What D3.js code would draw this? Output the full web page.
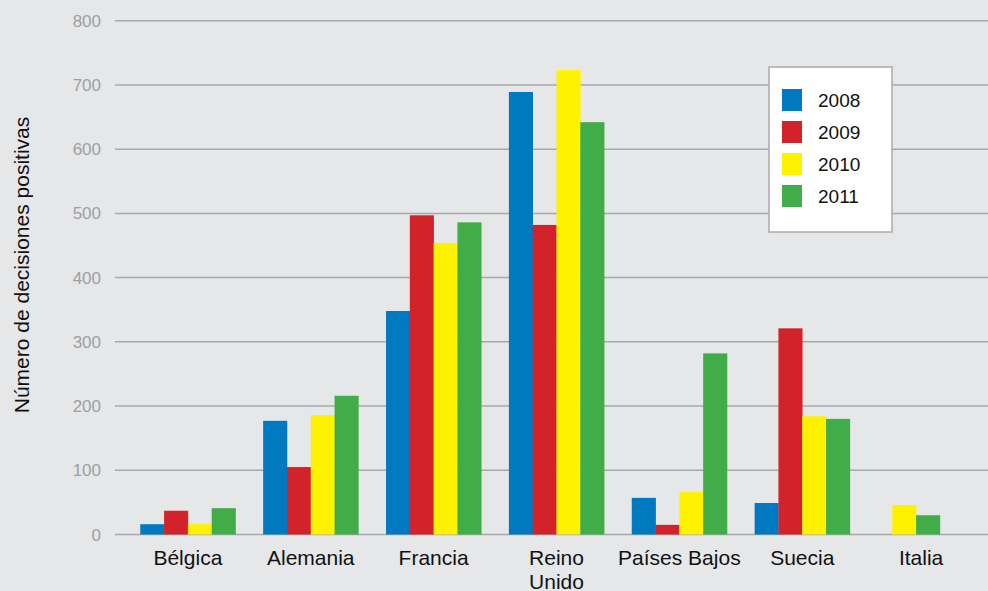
<!DOCTYPE html>
<html>
<head>
<meta charset="utf-8">
<script src="https://cdn.jsdelivr.net/npm/d3@7"></script>
<style>
  body { margin: 0; background: #e6e7e8; }
  svg { display: block; font-family: "Liberation Sans", Arial, sans-serif; }
</style>
</head>
<body>
<script>
const paises = ["Bélgica", "Alemania", "Francia", "Reino Unido", "Países Bajos", "Suecia", "Italia"];
const anios = ["2008", "2009", "2010", "2011"];
const v2008 = [16, 177, 348, 689, 57, 49, null];
const v2009 = [37, 105, 497, 482, 15, 321, null];
const v2010 = [16, 186, 454, 723, 66, 184, 46];
const v2011 = [41, 216, 486, 642, 282, 180, 30];
const yTicks = [0, 100, 200, 300, 400, 500, 600, 700, 800];
const colores = ["#0079c1", "#d3232a", "#fff200", "#41ad49"];

const series = [v2008, v2009, v2010, v2011];

const width = 988;
const height = 591;

const svg = d3.select("body").append("svg")
    .attr("width", width)
    .attr("height", height);

svg.append("rect")
    .attr("width", width)
    .attr("height", height)
    .attr("fill", "#e6e7e8");

const y = d3.scaleLinear().domain([0, 800]).range([534.5, 20.7]);

const x = d3.scaleBand()
    .domain(paises)
    .range([128, 985])
    .paddingInner(0.225)
    .paddingOuter(0.1);

// grid + tick labels
const grid = svg.append("g");
grid.selectAll("line")
    .data(yTicks)
    .join("line")
    .attr("x1", 115)
    .attr("x2", width)
    .attr("y1", d => y(d))
    .attr("y2", d => y(d))
    .attr("stroke", "#a7a8aa")
    .attr("stroke-width", 1.5);

grid.selectAll("text")
    .data(yTicks)
    .join("text")
    .attr("x", 101)
    .attr("y", d => y(d))
    .attr("dy", "0.36em")
    .attr("text-anchor", "end")
    .attr("font-size", 17)
    .attr("fill", "#9d9fa2")
    .text(d => d);

// bars (missing values are skipped, the rest centred in the group)
const datos = [];
paises.forEach((p, i) => {
    const presentes = anios
        .map((a, j) => ({ pais: p, anio: a, j: j, value: series[j][i] }))
        .filter(d => d.value !== null);
    presentes.forEach((d, k) => {
        d.k = k;
        d.n = presentes.length;
        datos.push(d);
    });
});

const bw = x.bandwidth() / anios.length;

svg.append("g")
    .selectAll("rect")
    .data(datos)
    .join("rect")
    .attr("x", d => x(d.pais) + (x.bandwidth() - d.n * bw) / 2 - (d.n < anios.length ? 9 : 0) + d.k * bw)
    .attr("y", d => y(d.value))
    .attr("width", bw + 0.3)
    .attr("height", d => y(0) - y(d.value))
    .attr("fill", d => colores[d.j]);

// category labels
const labels = svg.append("g")
    .selectAll("text")
    .data(paises)
    .join("text")
    .attr("x", d => x(d) + x.bandwidth() / 2)
    .attr("y", 565)
    .attr("text-anchor", "middle")
    .attr("font-size", 21)
    .attr("fill", "#111");

labels.each(function(d) {
    const lines = d === "Reino Unido" ? ["Reino", "Unido"] : [d];
    d3.select(this).selectAll("tspan")
        .data(lines)
        .join("tspan")
        .attr("x", x(d) + x.bandwidth() / 2 - (d === "Italia" ? 4 : 0))
        .attr("dy", (_, i) => i === 0 ? 0 : 24)
        .text(t => t);
});

// y axis title
svg.append("text")
    .attr("transform", `translate(29, 265) rotate(-90)`)
    .attr("text-anchor", "middle")
    .attr("font-size", 21)
    .attr("fill", "#111")
    .text("Número de decisiones positivas");

// legend
const legend = svg.append("g");
legend.append("rect")
    .attr("x", 769)
    .attr("y", 67)
    .attr("width", 123)
    .attr("height", 165)
    .attr("fill", "#fff")
    .attr("stroke", "#aaabad")
    .attr("stroke-width", 1.5);

legend.selectAll(".sw")
    .data(anios)
    .join("rect")
    .attr("class", "sw")
    .attr("x", 782)
    .attr("y", (_, i) => 89 + i * 32)
    .attr("width", 20)
    .attr("height", 22)
    .attr("fill", (_, i) => colores[i]);

legend.selectAll(".lt")
    .data(anios)
    .join("text")
    .attr("class", "lt")
    .attr("x", 818)
    .attr("y", (_, i) => 100 + i * 32)
    .attr("dy", "0.36em")
    .attr("font-size", 19)
    .attr("fill", "#111")
    .text(d => d);
</script>
</body>
</html>
